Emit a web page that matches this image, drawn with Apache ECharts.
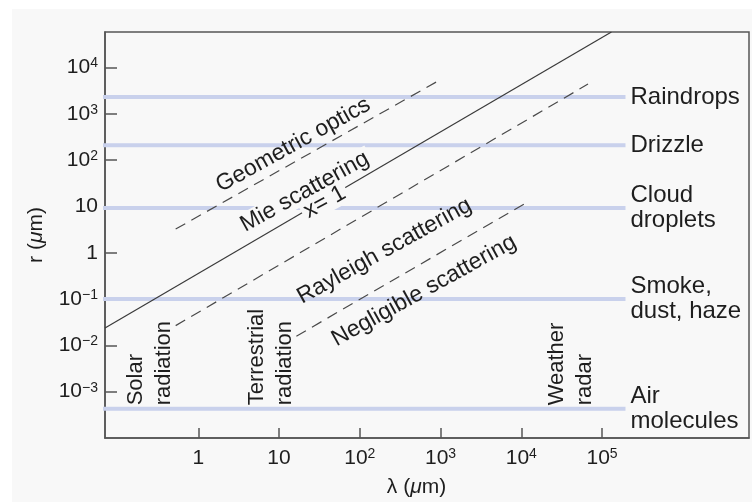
<!DOCTYPE html>
<html><head><meta charset="utf-8">
<script src="https://cdn.jsdelivr.net/npm/echarts@6/dist/echarts.min.js"></script>
<style>html,body{margin:0;padding:0;background:#fff}#c{width:752px;height:503px}</style>
</head><body><div id="c"></div>
<script>
// ---- data (micrometres) ----
const xTickValues = [1, 10, 100, 1000, 10000, 100000];
const yTickValues = [1e-3, 1e-2, 1e-1, 1, 10, 100, 1000, 10000];
const xRange = [0.07, 6.6e6];
const yRange = [1e-4, 5.86e4];

const bandNames = ['Raindrops', 'Drizzle', 'Cloud\ndroplets', 'Smoke,\ndust, haze', 'Air\nmolecules'];
const bandRadius = [2300, 210, 9.3, 0.1, 4.3e-4];
const bandLambda = [0.05, 1.95e5];

const boundaryNames = ['Geometric optics limit', 'x = 1', 'Rayleigh limit', 'Negligible limit'];
const boundaryLambda = [[0.525, 955], [0.07, 1.306e5], [0.525, 6.7e4], [16.4, 1.13e4]];
const boundaryRadius = [[3.25, 5250], [0.0238, 5.86e4], [0.0267, 4400], [0.0158, 11.8]];

const regimeNames = ['Geometric optics', 'Mie scattering', 'x= 1', 'Rayleigh scattering', 'Negligible scattering'];
const regimeLambda = [15, 20.8, 36.8, 202, 623];
const regimeRadius = [213, 20.8, 12.4, 1.09, 0.152];

const sourceNames = ['Solar\nradiation', 'Terrestrial\nradiation', 'Weather\nradar'];
const sourceLambda = [0.252, 7.89, 4.16e4];
const sourceRadius = [5.07e-4, 5.07e-4, 5.07e-4];

// ---- chart ----
const L = Math.log10;
const FONT = 'Liberation Sans, Arial, Helvetica, sans-serif';
const TXT = '#1e1e1e';
const AX = '#555';
const PANEL = '#f8f8f8';

function powLabel(v) {
  const e = Math.round(v);
  if (e === 0) return '{b|1}';
  if (e === 1) return '{b|10}';
  return '{b|10}{s|' + (e < 0 ? '\u2212' + (-e) : e) + '}';
}
const tickRich = {
  b: { fontSize: 21, lineHeight: 22, color: TXT, fontFamily: FONT },
  s: { fontSize: 14, lineHeight: 14, color: TXT, fontFamily: FONT, verticalAlign: 'top' }
};

const series = [];
bandNames.forEach((n, i) => {
  series.push({
    type: 'line', name: n, silent: true, z: 1, symbol: 'none',
    data: [[L(bandLambda[0]), L(bandRadius[i])], [L(bandLambda[1]), L(bandRadius[i])]],
    lineStyle: { color: '#c9d1ec', width: 4 },
    endLabel: { show: true, formatter: '{a}', distance: 5, color: TXT, fontSize: 24, lineHeight: 25, fontFamily: FONT, align: 'left', verticalAlign: 'middle' }
  });
});
boundaryNames.forEach((n, i) => {
  series.push({
    type: 'line', name: n, silent: true, z: 3, symbol: 'none',
    data: boundaryLambda[i].map((x, j) => [L(x), L(boundaryRadius[i][j])]),
    lineStyle: { color: i === 1 ? '#3a3a3a' : '#4a4a4a', width: 1.2, type: i === 1 ? 'solid' : [11, 7] }
  });
});
series.push({
  type: 'scatter', silent: true, z: 5, symbolSize: 0,
  itemStyle: { opacity: 1 },
  data: regimeNames.map((n, i) => {
    const item = { name: n, value: [L(regimeLambda[i]), L(regimeRadius[i])] };
    if (i === 1 || i === 2) item.label = { backgroundColor: PANEL, padding: [0, 3] };
    return item;
  }),
  label: { show: true, position: 'inside', formatter: '{b}', rotate: 29, align: 'center', verticalAlign: 'middle', color: TXT, fontSize: 23, fontFamily: FONT, textBorderWidth: 0 }
});
series.push({
  type: 'scatter', silent: true, z: 5, symbolSize: 0,
  itemStyle: { opacity: 1 },
  data: sourceNames.map((n, i) => ({ name: n, value: [L(sourceLambda[i]), L(sourceRadius[i])] })),
  label: { show: true, position: 'inside', formatter: '{b}', rotate: 90, align: 'left', verticalAlign: 'middle', color: TXT, fontSize: 22, lineHeight: 28, fontFamily: FONT, textBorderWidth: 0 }
});

const chart = echarts.init(document.getElementById('c'), null, { renderer: 'canvas' });
chart.setOption({
  animation: false,
  backgroundColor: PANEL,
  textStyle: { fontFamily: FONT },
  graphic: [
    { type: 'rect', silent: true, shape: { x: 0, y: 0, width: 752, height: 9 }, style: { fill: '#fff' } },
    { type: 'rect', silent: true, shape: { x: 0, y: 0, width: 12, height: 503 }, style: { fill: '#fff' } },
    { type: 'rect', silent: true, shape: { x: 0, y: 502, width: 752, height: 1 }, style: { fill: '#fff' } }
  ],
  grid: { left: 105, right: 3, top: 32, bottom: 64, show: true, borderColor: AX, borderWidth: 1.5, backgroundColor: 'transparent' },
  xAxis: {
    type: 'value', min: L(xRange[0]), max: L(xRange[1]),
    axisLine: { show: true, onZero: false, lineStyle: { color: AX, width: 1.5 } },
    axisTick: { show: true, inside: true, length: 10, customValues: xTickValues.map(L), lineStyle: { color: AX, width: 1.5 } },
    axisLabel: { customValues: xTickValues.map(L), formatter: powLabel, margin: 9, rich: tickRich },
    splitLine: { show: false },
    name: 'λ ({i|μ}m)', nameLocation: 'middle', nameGap: 39,
    nameTextStyle: { fontSize: 21, color: TXT, fontFamily: FONT, padding: [0, 21, 0, 0], rich: { i: { fontStyle: 'italic', fontSize: 21, color: TXT, fontFamily: FONT } } }
  },
  yAxis: {
    type: 'value', min: L(yRange[0]), max: L(yRange[1]),
    axisLine: { show: true, onZero: false, lineStyle: { color: AX, width: 1.5 } },
    axisTick: { show: true, inside: true, length: 12, customValues: yTickValues.map(L), lineStyle: { color: AX, width: 1.5 } },
    axisLabel: { customValues: yTickValues.map(L), formatter: powLabel, margin: 7, rich: tickRich },
    splitLine: { show: false },
    name: 'r ({i|μ}m)', nameLocation: 'middle', nameGap: 58, nameRotate: 90,
    nameTextStyle: { fontSize: 21, color: TXT, fontFamily: FONT, rich: { i: { fontStyle: 'italic', fontSize: 21, color: TXT, fontFamily: FONT } } }
  },
  series: series
});
</script>
</body></html>
